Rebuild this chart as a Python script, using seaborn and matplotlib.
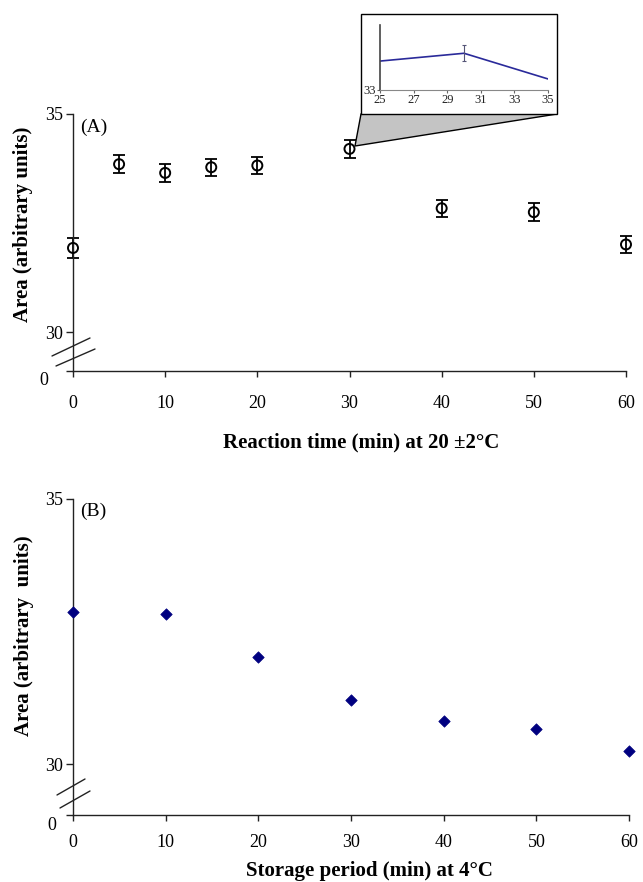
import matplotlib
matplotlib.use("Agg")
import matplotlib.pyplot as plt
from matplotlib.patches import Rectangle, Polygon
from matplotlib.lines import Line2D
import seaborn as sns
import pandas as pd

# ---- data ----
time_a = [0, 5, 10, 15, 20, 30, 40, 50, 60]
area_a = [31.93, 33.85, 33.65, 33.78, 33.82, 34.20, 32.84, 32.75, 32.01]
err_a = [0.22, 0.2, 0.2, 0.2, 0.2, 0.2, 0.2, 0.2, 0.2]

time_b = [0, 10, 20, 30, 40, 50, 60]
area_b = [32.87, 32.83, 32.02, 31.20, 30.81, 30.67, 30.25]

inset_x = [25, 30, 35]
inset_y = [33.89, 34.13, 33.34]
inset_err = [0.0, 0.24, 0.0]

xticks = [0, 10, 20, 30, 40, 50, 60]
inset_xticks = [25, 27, 29, 31, 33, 35]

sns.set_style("ticks")
plt.rcParams["font.family"] = ["Liberation Serif", "DejaVu Serif"]
plt.rcParams["text.color"] = "black"
plt.rcParams["axes.labelcolor"] = "black"
plt.rcParams["xtick.labelcolor"] = "black"
plt.rcParams["ytick.labelcolor"] = "black"

W, H = 643, 882
fig = plt.figure(figsize=(W / 100, H / 100), dpi=100)


def fx(px):
    return px / W


def fy(py):
    return 1 - py / H


def style_axes(ax, ybottom, pad):
    for s in ["top", "right"]:
        ax.spines[s].set_visible(False)
    for s in ["left", "bottom"]:
        ax.spines[s].set_color("#222222")
        ax.spines[s].set_linewidth(1.0)
    ax.set_xlim(0, 60)
    ax.set_xticks(xticks)
    ax.set_yticks([ybottom, 30, 35])
    ax.set_yticklabels(["", "30", "35"])
    ax.tick_params(axis="y", direction="out", length=5, width=1.0, color="#222222",
                   labelsize=13, pad=2)
    ax.tick_params(axis="x", direction="out", length=4, width=1.0, color="#222222",
                   labelsize=13, pad=pad)


# ---- Panel A ----
axA = fig.add_axes([fx(73), fy(371), fx(626 - 73), (371 - 114) / H])
ybotA = 29.11
axA.set_ylim(ybotA, 35)
dfA = pd.DataFrame({"t": time_a, "a": area_a, "e": err_a})
eb = axA.errorbar(dfA["t"], dfA["a"], yerr=dfA["e"], fmt="none", ecolor="black",
                  elinewidth=1.3, capsize=4.5, capthick=1.3, zorder=2)
for art in eb.lines[1] + eb.lines[2]:
    art.set_clip_on(False)
sns.scatterplot(data=dfA, x="t", y="a", ax=axA, marker="o", s=52,
                facecolor="none", edgecolor="black", linewidth=1.4, zorder=3,
                clip_on=False)
style_axes(axA, ybotA, 13)
axA.set_xlabel("Reaction time (min) at 20 \u00b12\u00b0C", fontsize=15, fontweight="bold")
axA.set_ylabel("Area (arbitrary units)", fontsize=15, fontweight="bold")
axA.xaxis.set_label_coords((361 - 73) / 553, -0.241)
axA.yaxis.set_label_coords((33 - 73) / 553, 0.570)
axA.text(0.013, 0.95, "(A)", transform=axA.transAxes, fontsize=14, va="center", ha="left")
fig.text(fx(44), fy(381), "0", fontsize=13, ha="center", va="center")

# ---- Panel B ----
axB = fig.add_axes([fx(73), fy(815), fx(629 - 73), (815 - 499) / H])
ybotB = 29.04
axB.set_ylim(ybotB, 35)
dfB = pd.DataFrame({"t": time_b, "a": area_b})
sns.scatterplot(data=dfB, x="t", y="a", ax=axB, marker="D", s=34,
                color="#000080", edgecolor="#000080", linewidth=0.5, zorder=3,
                clip_on=False)
style_axes(axB, ybotB, 10)
axB.set_xlabel("Storage period (min) at 4\u00b0C", fontsize=15, fontweight="bold")
axB.set_ylabel("Area (arbitrary  units)", fontsize=15, fontweight="bold")
axB.xaxis.set_label_coords((369 - 73) / 556, -0.146)
axB.yaxis.set_label_coords((34 - 73) / 556, 0.566)
axB.text(0.013, 0.96, "(B)", transform=axB.transAxes, fontsize=14, va="center", ha="left")
fig.text(fx(52), fy(826), "0", fontsize=13, ha="center", va="center")

# ---- axis break marks ----
for (x0, y0, x1, y1) in [(52, 356, 90, 338), (56, 366, 95, 349),
                         (57, 795, 85, 779), (60, 808, 90, 791)]:
    fig.add_artist(Line2D([fx(x0), fx(x1)], [fy(y0), fy(y1)], color="#222222",
                          linewidth=1.0, transform=fig.transFigure))

# ---- zoom triangle and inset box ----
tri = Polygon([[fx(361), fy(114)], [fx(557), fy(114)], [fx(355), fy(146)]],
              closed=True, facecolor="#c4c4c4", edgecolor="black", linewidth=1.0,
              transform=fig.transFigure, zorder=1)
fig.add_artist(tri)
box = Rectangle((fx(361), fy(114)), fx(557 - 361), (114 - 14) / H, facecolor="white",
                edgecolor="black", linewidth=1.0, transform=fig.transFigure, zorder=1)
fig.add_artist(box)

axI = fig.add_axes([fx(380), fy(90), fx(548 - 380), (90 - 25) / H], zorder=5)
axI.patch.set_alpha(0)
dfI = pd.DataFrame({"x": inset_x, "y": inset_y, "e": inset_err})
sns.lineplot(data=dfI, x="x", y="y", ax=axI, color="#2a2a9a", linewidth=1.2)
axI.errorbar([inset_x[1]], [inset_y[1]], yerr=[inset_err[1]], fmt="none",
             ecolor="#555577", elinewidth=0.8, capsize=1.5, capthick=0.8)
axI.set_xlim(25, 35)
axI.set_ylim(33, 35)
axI.set_xticks(inset_xticks)
axI.set_yticks([33])
axI.set_xlabel("")
axI.set_ylabel("")
for s in ["top", "right"]:
    axI.spines[s].set_visible(False)
axI.spines["left"].set_color("#444444")
axI.spines["left"].set_linewidth(1.2)
axI.spines["bottom"].set_color("#888888")
axI.spines["bottom"].set_linewidth(0.8)
axI.tick_params(axis="both", direction="out", length=2, width=0.8, color="#666666",
                labelsize=9, pad=1, labelcolor="#222222")

fig.savefig("out.png", dpi=100)
